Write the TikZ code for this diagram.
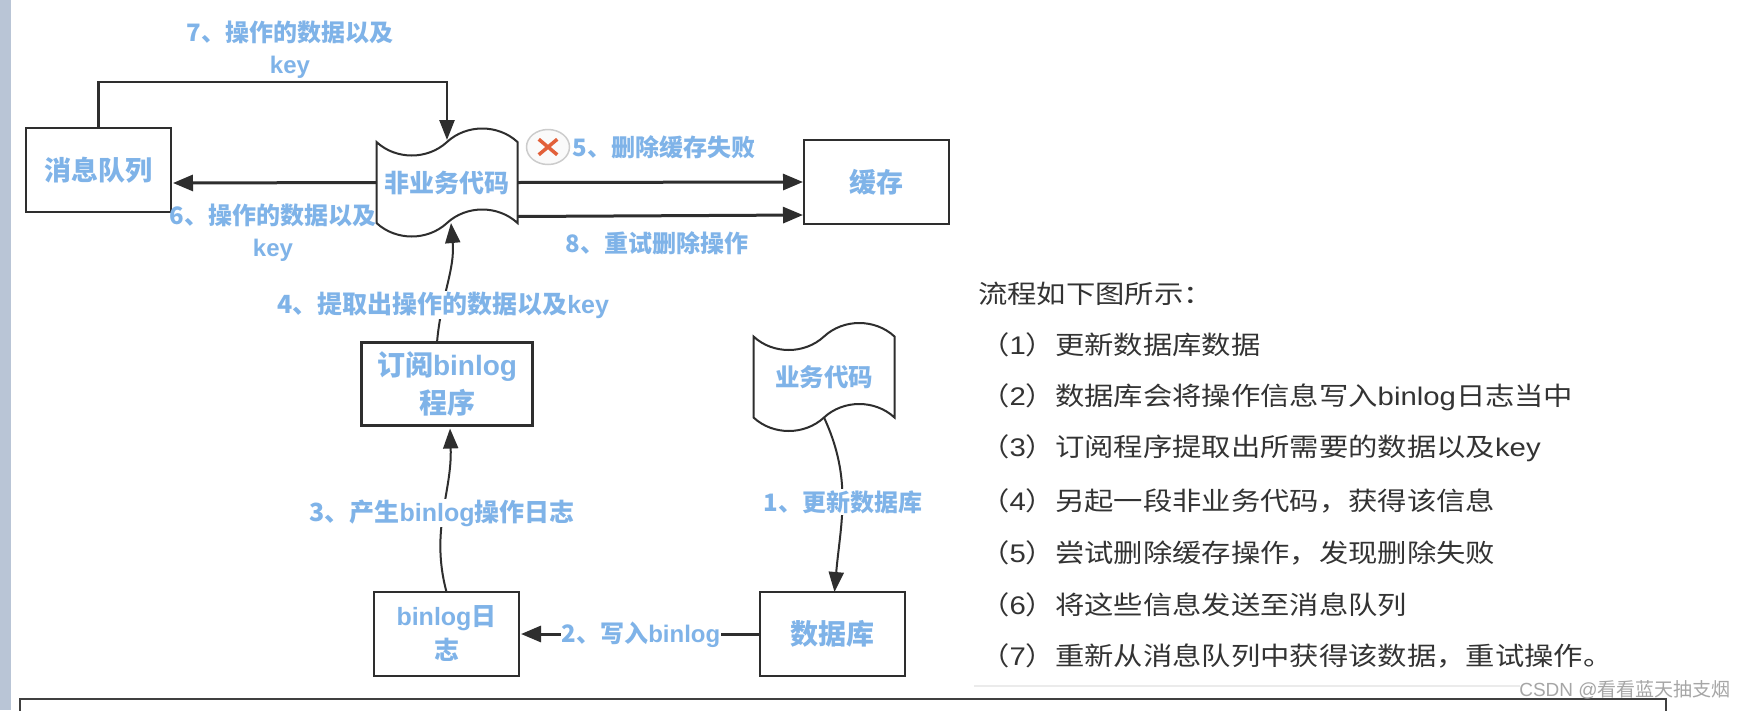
\documentclass[tikz,border=0pt]{standalone}
\usepackage{fontspec}
\setmainfont{Noto Sans CJK SC}
\newfontfamily\listfont[FakeStretch=1.15]{Noto Sans CJK SC}
\newfontfamily\latinfont{Liberation Sans}
\newfontfamily\listlatin[FakeStretch=1.15]{Liberation Sans}
\newcommand{\lat}[1]{{\latinfont #1}}
\newcommand{\listlat}[1]{{\listlatin #1}}
\usetikzlibrary{arrows.meta,shapes.symbols,shapes.geometric,shapes.misc}
\definecolor{labelblue}{HTML}{7FB3E8}
\definecolor{linegray}{HTML}{2E2E2E}
\definecolor{barblue}{HTML}{B9C5D6}
\definecolor{crossred}{HTML}{E2603A}

\begin{document}
\begin{tikzpicture}[
  x=1pt,
  y=-1pt,
  boxnode/.style={draw=linegray,line width=2.4pt,rectangle,outer sep=0pt,inner sep=0pt,minimum width=145pt,minimum height=84pt,align=center,text=labelblue,font=\bfseries\fontsize{27}{38}\selectfont},
  wavenode/.style={boxnode,tape,tape bend top=in and out,tape bend bottom=in and out,tape bend height=27pt,minimum width=141pt,minimum height=108pt,line width=2pt},
  edgetext/.style={text=labelblue,fill=white,inner sep=1pt,align=center,font=\bfseries\fontsize{24}{32}\selectfont},
  thinline/.style={draw=linegray,line width=2pt,-{Triangle[length=20pt,width=15pt]}},
  thickline/.style={draw=linegray,line width=3pt,-{Triangle[length=20pt,width=16pt]}},
  listline/.style={anchor=west,inner sep=0pt,text=black!80,font=\listfont\fontsize{25.5}{30}\selectfont}
]
  \useasboundingbox (0,0) rectangle (1746,710);
  \fill[white] (0,0) rectangle (1746,710);
  \fill[barblue] (0,0) rectangle (11,710);
  \draw[black!75,line width=1.6pt] (20,712) |- (1666,699) -- (1666,712);
  \draw[black!8,line width=2.5pt] (974,686) -- (1520,686);

  \node[boxnode] (queue) at (98.5,170) {消息队列};
  \node[wavenode,font=\bfseries\fontsize{25}{30}\selectfont] (worker) at (447,182.5) {非业务代码};
  \node[boxnode] (cache) at (876.5,182) {缓存};
  \node[boxnode,minimum width=171pt,minimum height=83pt,font=\bfseries\fontsize{28}{38}\selectfont] (subscriber) at (447,384) {订阅\lat{binlog}\\程序};
  \node[wavenode,font=\bfseries\fontsize{24.5}{30}\selectfont] (service) at (824,377) {业务代码};
  \node[boxnode,font=\bfseries\fontsize{25}{34}\selectfont] (binlog) at (446.5,634) {\lat{binlog}日\\志};
  \node[boxnode,font=\bfseries\fontsize{28}{34}\selectfont] (database) at (832.5,634) {数据库};

  \draw[thinline,line width=2.6pt] (queue.north) |- (447,82) -- ([yshift=2pt]worker.north);
  \draw[thickline] (worker.west) -- ([xshift=2pt,yshift=-13pt]queue.east);
  \draw[thickline] (worker.east) -- ([xshift=-1pt]cache.west);
  \draw[thickline] ([yshift=-34pt]worker.east) -- ([yshift=-33pt,xshift=-1pt]cache.west);
  \draw[thinline] ([xshift=-10pt]subscriber.north) to[out=85,in=-85] ([xshift=4pt]worker.south);
  \draw[thinline] (binlog.north) to[out=105,in=-88] ([xshift=3pt,yshift=-3pt]subscriber.south);
  \draw[thinline] (service.south) to[out=-65,in=85] ([xshift=2pt]database.north);
  \draw[thickline] (database.west) -- ([xshift=2pt]binlog.east);

  \node[edgetext] (textseven) at (290,50) {7、操作的数据以及\\\lat{key}};
  \node[edgetext,fill=none] (textsix) at (273,233) {6、操作的数据以及\\\lat{key}};
  \node[edgetext] (textfive) at (664,147) {5、删除缓存失败};
  \node[edgetext] (texteight) at (657,243) {8、重试删除操作};
  \node[edgetext,font=\bfseries\fontsize{25}{32}\selectfont] (textfour) at (443,305) {4、提取出操作的数据以及\lat{key}};
  \node[edgetext,font=\bfseries\fontsize{25}{32}\selectfont] (textthree) at (442,513) {3、产生\lat{binlog}操作日志};
  \node[edgetext] (textone) at (843,502) {1、更新数据库};
  \node[edgetext] (texttwo) at (641,635) {2、写入\lat{binlog}};

  \node[ellipse,draw=black!20,fill=black!2,line width=1.5pt,minimum width=43pt,minimum height=35pt,inner sep=0pt] (failmark) at (548,147) {};
  \node[cross out,draw=crossred,line width=3.5pt,minimum width=15pt,minimum height=12pt,inner sep=0pt] (failcross) at (failmark.center) {};

  \node[listline] (listhead) at (978,294) {流程如下图所示：};
  \foreach \num/\body [count=\row] in {1/更新数据库数据,2/数据库会将操作信息写入\listlat{binlog}日志当中,3/订阅程序提取出所需要的数据以及\listlat{key},4/{另起一段非业务代码，获得该信息},5/{尝试删除缓存操作，发现删除失败},6/将这些信息发送至消息队列,7/{重新从消息队列中获得该数据，重试操作。}}
    \node[listline] (list\num) at (980,293+\row*51.9) {（\listlat{\num}）\body};

  \node[text=black!35,inner sep=0pt,font=\fontsize{19}{20}\selectfont] (mark) at (1625,690) {\lat{CSDN @}看看蓝天抽支烟};
\end{tikzpicture}
\end{document}
